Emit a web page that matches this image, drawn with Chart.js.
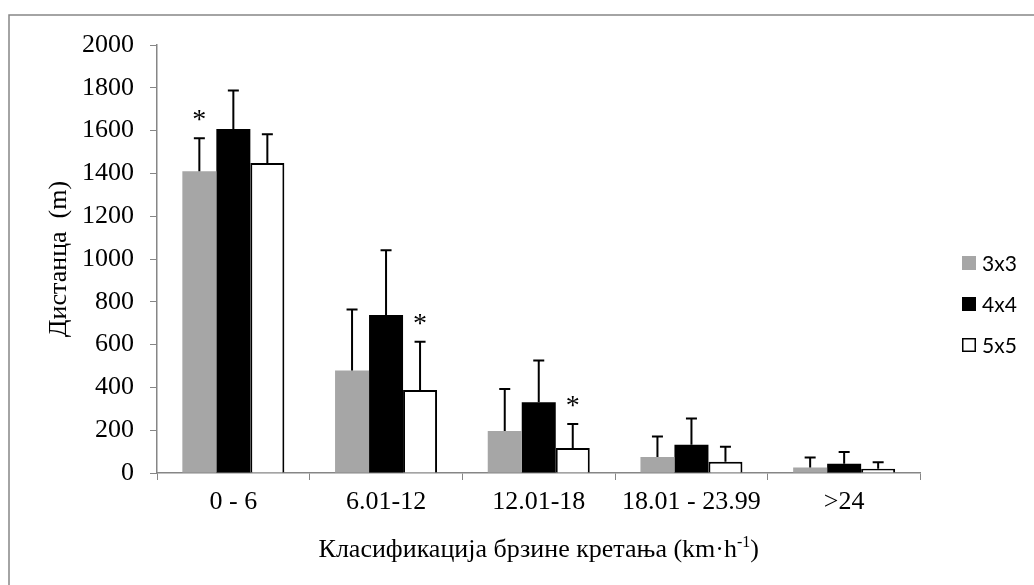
<!DOCTYPE html>
<html>
<head>
<meta charset="utf-8">
<style>
  html, body { margin: 0; padding: 0; background: #fff; }
  #wrap { width: 1034px; height: 585px; position: relative; }
</style>
<script src="https://cdn.jsdelivr.net/npm/chart.js@4/dist/chart.umd.min.js"></script>
</head>
<body>
<div id="wrap"><canvas id="c" width="1034" height="585"></canvas></div>
<script>
// ---- data ----
const categories = ['0 - 6', '6.01-12', '12.01-18', '18.01 - 23.99', '>24'];
const seriesNames = ['3x3', '4x4', '5x5'];
const values3x3 = [1410, 479, 196, 75, 26];
const values4x4 = [1608, 738, 331, 132, 43];
const values5x5 = [1449, 388, 117, 53, 20];
const sd3x3 = [154, 285, 196, 95, 47];
const sd4x4 = [179, 303, 195, 123, 55];
const sd5x5 = [134, 225, 112, 70, 30];
const sig3x3 = [true, false, false, false, false];
const sig4x4 = [false, false, false, false, false];
const sig5x5 = [false, true, true, false, false];
const yTicksMin = 0, yTicksMax = 2000, yTicksStep = 200;
const yTitle = 'Дистанца  (m)';
const xTitleMain = 'Класификација брзине кретања (km·h';
const xTitleSup = '-1';
const xTitleEnd = ')';

const serif = '"Liberation Serif", "Times New Roman", serif';
const AXIS = '#868686';

const errorBars = {
  id: 'errorBars',
  afterDatasetsDraw(chart) {
    const ctx = chart.ctx;
    const y = chart.scales.y;
    chart.data.datasets.forEach((ds, di) => {
      const meta = chart.getDatasetMeta(di);
      meta.data.forEach((bar, i) => {
        const top = y.getPixelForValue(ds.data[i] + ds.sd[i]);
        const base = y.getPixelForValue(ds.data[i]);
        ctx.save();
        ctx.strokeStyle = '#000';
        ctx.lineWidth = 2;
        ctx.beginPath();
        ctx.moveTo(bar.x, base);
        ctx.lineTo(bar.x, top);
        ctx.moveTo(bar.x - 5.5, top);
        ctx.lineTo(bar.x + 5.5, top);
        ctx.stroke();
        if (ds.sig[i]) {
          ctx.fillStyle = '#000';
          ctx.font = '28px ' + serif;
          ctx.textAlign = 'center';
          ctx.textBaseline = 'alphabetic';
          ctx.fillText('*', bar.x, top - 10);
        }
        ctx.restore();
      });
    });
  }
};

const decorations = {
  id: 'decorations',
  beforeDraw(chart) {
    const ctx = chart.ctx;
    ctx.save();
    ctx.fillStyle = '#fff';
    ctx.fillRect(0, 0, chart.width, chart.height);
    ctx.strokeStyle = AXIS;
    ctx.lineWidth = 1.5;
    ctx.strokeRect(9, 15, 1200, 1000);
    ctx.restore();
  },
  afterDraw(chart) {
    const ctx = chart.ctx;
    const area = chart.chartArea;
    ctx.save();
    // x title with superscript
    ctx.fillStyle = '#000';
    ctx.textBaseline = 'alphabetic';
    ctx.textAlign = 'left';
    const mainFont = '26px ' + serif;
    const supFont = '16px ' + serif;
    ctx.font = mainFont;
    const w1 = ctx.measureText(xTitleMain).width;
    const w3 = ctx.measureText(xTitleEnd).width;
    ctx.font = supFont;
    const w2 = ctx.measureText(xTitleSup).width;
    const total = w1 + w2 + w3;
    const cx = (area.left + area.right) / 2;
    let x = cx - total / 2;
    const yb = 557;
    ctx.font = mainFont;
    ctx.fillText(xTitleMain, x, yb);
    x += w1;
    ctx.font = supFont;
    ctx.fillText(xTitleSup, x, yb - 10);
    x += w2;
    ctx.font = mainFont;
    ctx.fillText(xTitleEnd, x, yb);

    // legend
    const lx = 962, ly0 = 263, gap = 41;
    chart.data.datasets.forEach((ds, i) => {
      const yy = ly0 + i * gap;
      ctx.fillStyle = ds.backgroundColor;
      ctx.fillRect(lx, yy - 7, 14, 14);
      if (ds.borderWidth) {
        ctx.strokeStyle = ds.borderColor;
        ctx.lineWidth = 1.5;
        ctx.strokeRect(lx + 0.75, yy - 6.25, 12.5, 12.5);
      }
      ctx.fillStyle = '#000';
      ctx.font = '21px Lato, "Open Sans", sans-serif';
      ctx.textBaseline = 'middle';
      ctx.fillText(ds.label, lx + 20, yy + 1);
    });
    ctx.restore();
  }
};

const chart = new Chart(document.getElementById('c'), {
  type: 'bar',
  data: {
    labels: categories,
    datasets: [
      { label: seriesNames[0], data: values3x3, sd: sd3x3, sig: sig3x3,
        backgroundColor: '#a6a6a6', borderWidth: 0 },
      { label: seriesNames[1], data: values4x4, sd: sd4x4, sig: sig4x4,
        backgroundColor: '#000000', borderWidth: 0 },
      { label: seriesNames[2], data: values5x5, sd: sd5x5, sig: sig5x5,
        backgroundColor: '#ffffff', borderColor: '#000000', borderWidth: 2, borderSkipped: 'bottom' }
    ]
  },
  options: {
    responsive: false,
    animation: false,
    devicePixelRatio: 1,
    layout: { padding: { left: 0, right: 113.5, top: 45, bottom: 0 } },
    plugins: {
      legend: { display: false },
      tooltip: { enabled: false }
    },
    datasets: { bar: { categoryPercentage: 0.668, barPercentage: 1.0 } },
    scales: {
      x: {
        grid: { display: true, drawOnChartArea: false, drawTicks: true, tickLength: 7, color: AXIS, offset: true },
        border: { display: true, color: AXIS, width: 1.5 },
        ticks: { color: '#000', font: { family: serif, size: 26 }, padding: 7, maxRotation: 0, autoSkip: false },
        afterFit(scale) { scale.height = 112; }
      },
      y: {
        min: yTicksMin, max: yTicksMax,
        ticks: { stepSize: yTicksStep, color: '#000', font: { family: serif, size: 26 }, padding: 16,
                 callback: (v) => String(v) },
        grid: { display: true, drawOnChartArea: false, drawTicks: true, tickLength: 7, color: AXIS },
        border: { display: true, color: AXIS, width: 1.5 },
        title: { display: true, text: yTitle, color: '#000', font: { family: serif, size: 26 }, padding: { top: 44, bottom: 0 } },
        afterFit(scale) { scale.width = 157; }
      }
    }
  },
  plugins: [decorations, errorBars]
});
</script>
</body>
</html>
